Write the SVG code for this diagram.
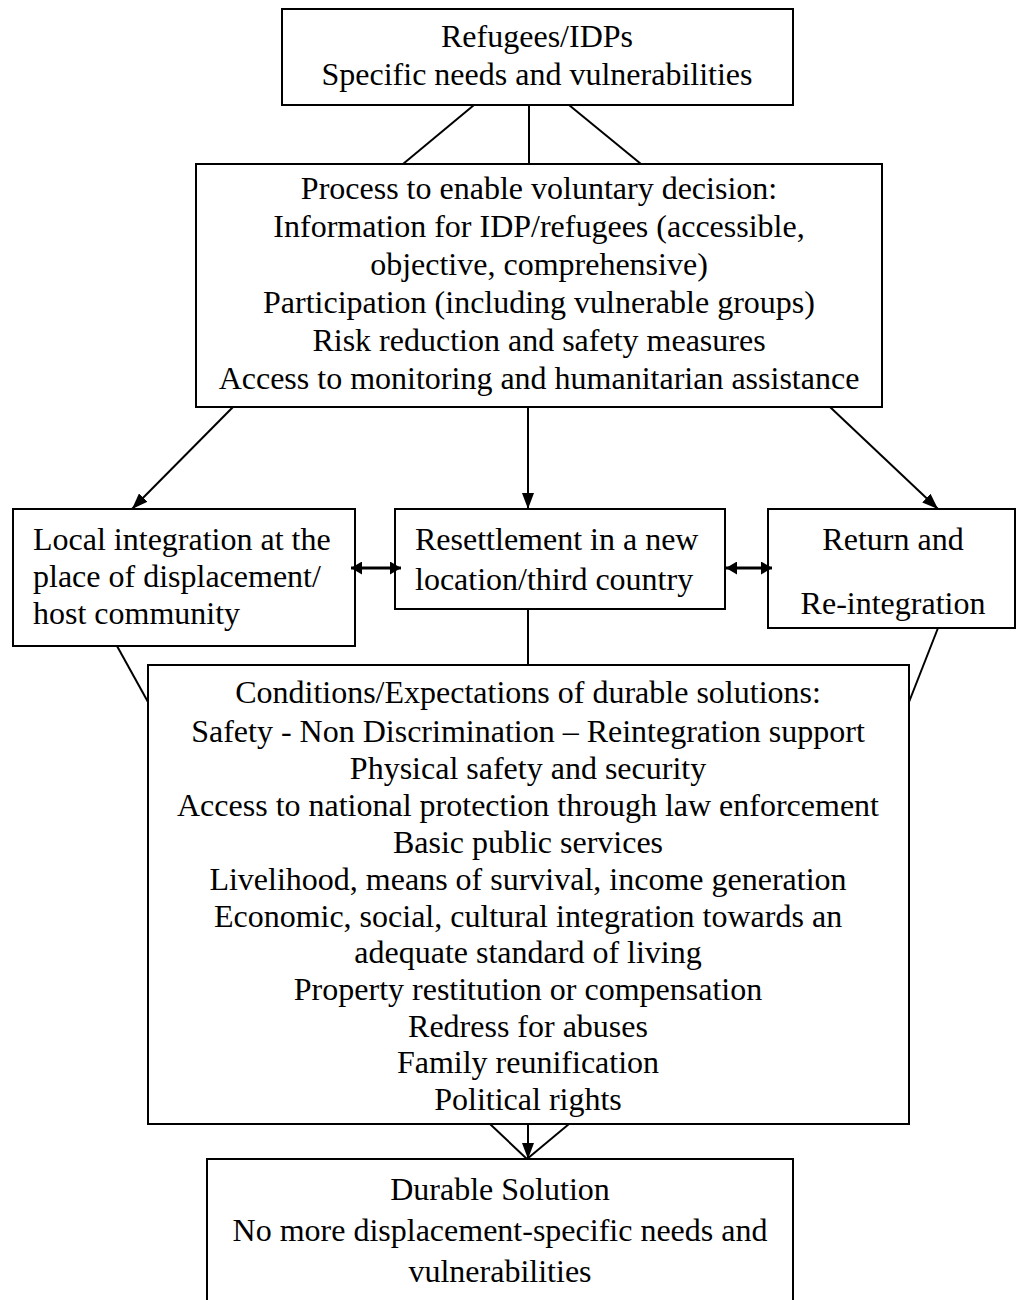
<svg xmlns="http://www.w3.org/2000/svg" width="1017" height="1300" viewBox="0 0 1017 1300">
<style>
.box{fill:#fff;stroke:#000;stroke-width:2}
.t{font-family:"Liberation Serif","Times New Roman",serif;font-size:32px;fill:#000}
.c{text-anchor:middle}
.ln{stroke:#000;stroke-width:2;fill:none}
.dbl{stroke:#000;stroke-width:3;fill:none}
</style>
<defs>
<marker id="ah" markerUnits="userSpaceOnUse" markerWidth="16" markerHeight="12" refX="16" refY="6" orient="auto"><path d="M0,0 L16,6 L0,12 z" fill="#000"/></marker>
<marker id="dh" markerUnits="userSpaceOnUse" markerWidth="11" markerHeight="13" refX="11" refY="6.5" orient="auto-start-reverse"><path d="M0,0 L11,6.5 L0,13 z" fill="#000"/></marker>
</defs>
<rect width="1017" height="1300" fill="#fff"/>
<g id="refugees">
<rect class="box" x="282" y="9" width="511" height="96"/>
<text class="t c" x="537" y="47">Refugees/IDPs</text>
<text class="t c" x="537" y="85">Specific needs and vulnerabilities</text>
</g>
<g id="process">
<rect class="box" x="196" y="164" width="686" height="243"/>
<text class="t c" x="539" y="199">Process to enable voluntary decision:</text>
<text class="t c" x="539" y="237">Information for IDP/refugees (accessible,</text>
<text class="t c" x="539" y="275">objective, comprehensive)</text>
<text class="t c" x="539" y="313">Participation (including vulnerable groups)</text>
<text class="t c" x="539" y="351">Risk reduction and safety measures</text>
<text class="t c" x="539" y="389">Access to monitoring and humanitarian assistance</text>
</g>
<g id="local">
<rect class="box" x="13" y="509" width="342" height="137"/>
<text class="t" x="33" y="550">Local integration at the</text>
<text class="t" x="33" y="587">place of displacement/</text>
<text class="t" x="33" y="624">host community</text>
</g>
<g id="resettlement">
<rect class="box" x="395" y="509" width="330" height="100"/>
<text class="t" x="415" y="550">Resettlement in a new</text>
<text class="t" x="415" y="590">location/third country</text>
</g>
<g id="return">
<rect class="box" x="768" y="509" width="247" height="119"/>
<text class="t c" x="893" y="550">Return and</text>
<text class="t c" x="893" y="614">Re-integration</text>
</g>
<g id="conditions">
<rect class="box" x="148" y="665" width="761" height="459"/>
<text class="t c" x="528" y="703">Conditions/Expectations of durable solutions:</text>
<text class="t c" x="528" y="742">Safety - Non Discrimination – Reintegration support</text>
<text class="t c" x="528" y="779">Physical safety and security</text>
<text class="t c" x="528" y="816">Access to national protection through law enforcement</text>
<text class="t c" x="528" y="853">Basic public services</text>
<text class="t c" x="528" y="890">Livelihood, means of survival, income generation</text>
<text class="t c" x="528" y="927">Economic, social, cultural integration towards an</text>
<text class="t c" x="528" y="963">adequate standard of living</text>
<text class="t c" x="528" y="1000">Property restitution or compensation</text>
<text class="t c" x="528" y="1037">Redress for abuses</text>
<text class="t c" x="528" y="1073">Family reunification</text>
<text class="t c" x="528" y="1110">Political rights</text>
</g>
<g id="durable">
<rect class="box" x="207" y="1159" width="586" height="160"/>
<text class="t c" x="500" y="1200">Durable Solution</text>
<text class="t c" x="500" y="1241">No more displacement-specific needs and</text>
<text class="t c" x="500" y="1282">vulnerabilities</text>
</g>
<g id="connectors">
<line class="ln" x1="474" y1="105" x2="403" y2="164"/>
<line class="ln" x1="529" y1="105" x2="529" y2="164"/>
<line class="ln" x1="569" y1="105" x2="641" y2="164"/>
<line class="ln" x1="233" y1="407" x2="132" y2="509" marker-end="url(#ah)"/>
<line class="ln" x1="528" y1="407" x2="528" y2="509" marker-end="url(#ah)"/>
<line class="ln" x1="830" y1="407" x2="938" y2="509" marker-end="url(#ah)"/>
<line class="dbl" x1="351" y1="568" x2="401" y2="568" marker-start="url(#dh)" marker-end="url(#dh)"/>
<line class="dbl" x1="726" y1="568" x2="772" y2="568" marker-start="url(#dh)" marker-end="url(#dh)"/>
<line class="ln" x1="117" y1="646" x2="148" y2="702"/>
<line class="ln" x1="528" y1="609" x2="528" y2="665"/>
<line class="ln" x1="938" y1="628" x2="909" y2="702"/>
<line class="ln" x1="490" y1="1124" x2="527" y2="1159"/>
<line class="ln" x1="569" y1="1124" x2="527" y2="1159"/>
<line class="ln" x1="528" y1="1124" x2="528" y2="1159" marker-end="url(#ah)"/>
</g>
</svg>
